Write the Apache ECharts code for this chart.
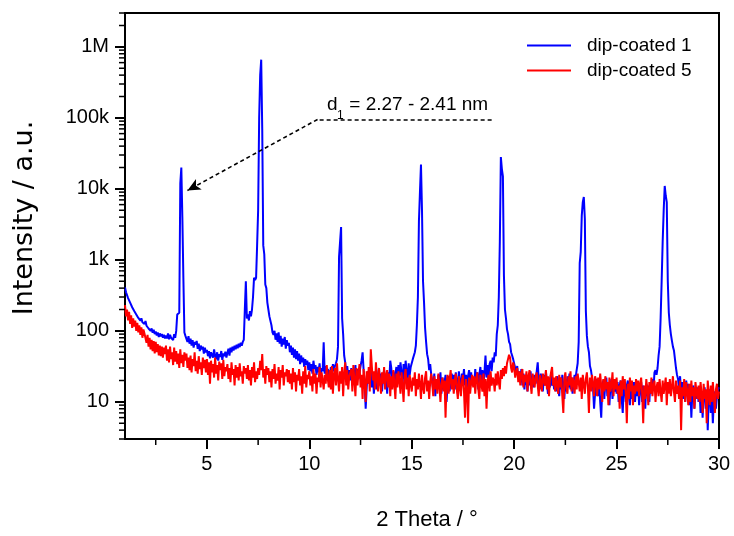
<!DOCTYPE html>
<html>
<head>
<meta charset="utf-8">
<script src="https://cdn.jsdelivr.net/npm/echarts@6/dist/echarts.min.js"></script>
<style>html,body{margin:0;padding:0;background:#fff;}#chart{width:734px;height:536px;}</style>
</head>
<body>
<div id="chart"></div>
<script>
// 2θ sampling grid
const thetaStart = 1, thetaStep = 0.05;
// Intensity, dip-coated 1 (blue), one value per 0.05° from 1° to 30°
const dip1 = [
410,350,340,290,295,250,245,215,220,190,195,170,178,152,160,140,150,132,140,125,
138,118,125,108,115,100,108,94,104,90,98,86,95,82,92,84,90,80,88,78,
86,78,92,76,88,80,84,74,90,80,100,170,175,180,12000,20000,4000,550,95,85,
80,70,84,66,78,62,74,58,70,64,72,56,66,52,62,55,60,48,58,50,
54,44,52,41,50,46,42,55,44,40,50,38,47,43,52,39,48,44,51,42,
49,56,45,58,50,60,53,62,55,64,57,66,59,68,62,70,75,200,500,150,
170,140,190,160,200,300,560,520,560,1600,5000,100000,400000,660000,70000,1600,1200,450,400,250,
200,160,150,120,95,88,100,75,92,70,95,66,85,60,78,64,82,56,74,62,
68,50,62,46,58,42,55,40,52,38,48,34,45,36,42,31,40,33,38,28,
36,27,34,25,38,29,33,24,31,26,35,23,30,27,69,25,32,22,29,26,
22,31,24,34,27,32,35,40,60,1100,1800,2900,150,90,45,36,26,32,22,28,
20,30,17,27,22,33,18,29,21,26,32,38,50,28,19,8,16,27,18,24,
28,16,26,13,22,27,15,24,30,17,25,14,23,28,16,22,13,26,19,38,
30,19,27,16,25,31,18,33,22,36,26,17,34,21,38,27,20,35,24,31,
33,40,42,50,62,120,300,3500,9000,22000,5000,500,250,110,70,47,40,28,34,24,
20,14,25,12,21,16,24,18,26,13,22,15,19,24,10,18,23,14,21,25,
18,24,15,26,20,13,27,19,16,25,21,29,17,24,15,23,28,18,26,17,
22,17,29,19,26,15,24,31,20,28,18,26,45,22,33,21,34,38,27,42,
36,50,44,90,120,300,1800,28000,19000,15000,600,200,150,105,90,70,65,50,45,40,
38,30,26,32,21,27,19,29,17,25,15,24,20,14,23,17,27,18,22,16,
24,18,27,36,20,15,25,19,14,24,17,27,18,13,22,16,25,17,21,15,
20,14,23,16,12,22,15,24,17,11,21,14,23,16,25,15,22,13,19,24,
22,28,35,70,900,1300,4200,6500,7700,3800,190,85,60,50,32,28,22,16,8,13,
17,21,12,19,10,6,16,20,11,18,22,12,19,9,17,21,11,18,14,20,
13,19,10,17,20,11,7,16,18,10,17,20,12,9,18,11,16,19,10,17,
12,18,9,16,19,10,17,13,8,18,12,17,10,19,13,21,15,26,28,24,
30,45,60,150,500,1800,5000,11000,8000,6500,500,180,120,90,73,60,53,40,30,24,
21,15,23,13,19,11,17,10,20,12,18,9,16,6,14,17,8,15,11,16,
10,15,7,14,6,13,16,8,14,4,12,15,7,13,5,11,14,8,12,15,
16
];
// Intensity, dip-coated 5 (red)
const dip5 = [
230,160,200,140,185,125,165,110,150,115,140,100,130,95,120,88,112,80,105,92,
95,68,88,60,80,55,75,52,72,48,70,50,65,45,62,44,60,42,58,47,
62,38,55,36,60,40,50,33,58,37,52,34,48,30,55,35,46,31,50,38,
48,30,42,28,45,26,40,32,50,27,38,25,44,29,36,24,42,30,39,26,
40,24,36,18,38,26,34,22,42,25,33,20,37,28,35,21,39,23,31,27,
34,21,30,19,36,24,29,17,33,22,31,20,35,23,27,18,32,25,30,21,
33,20,28,17,31,22,36,19,27,21,30,24,38,28,47,22,29,18,32,24,
30,19,27,16,29,21,34,18,25,20,31,15,28,22,33,17,26,23,29,19,
28,18,25,15,30,19,26,14,24,20,29,17,23,13,27,18,32,16,24,21,
27,17,23,14,29,18,25,13,22,19,31,16,26,20,15,24,18,33,21,16,
28,15,32,13,24,30,17,35,21,14,27,18,31,12,25,36,17,28,15,23,
22,29,14,33,20,12,30,17,26,34,16,24,11,29,19,10,27,18,31,14,
55,32,20,27,15,36,22,14,30,19,13,26,18,31,15,24,28,16,25,12,
23,15,28,18,11,25,16,27,20,13,26,17,10,23,29,15,22,12,24,18,
14,22,17,26,12,21,15,25,18,11,24,16,13,22,27,14,20,11,19,25,
18,12,23,15,21,13,25,17,10,18,22,14,20,6,19,24,13,21,28,15,
21,13,20,25,15,11,23,16,12,20,24,14,6,21,15,5,22,13,19,24,
16,23,13,21,26,15,11,24,18,14,25,12,21,8,19,24,14,27,17,22,
20,14,25,17,27,19,15,28,21,30,23,32,25,35,40,46,42,30,26,36,
31,22,26,30,19,27,17,25,29,16,24,19,27,14,23,28,18,13,25,20,
16,23,26,17,12,24,19,14,25,20,17,28,15,23,12,21,26,31,17,22,
14,23,18,13,24,16,22,12,7,21,26,16,13,23,17,27,14,22,19,13,
23,15,25,19,14,22,11,24,18,13,21,26,16,7,22,14,24,18,12,23,
20,12,22,15,25,17,10,21,14,23,15,19,9,22,14,17,26,12,21,15,
22,13,17,8,20,12,23,15,21,13,5,18,11,22,14,20,9,17,13,21,
14,20,12,18,22,13,5,17,11,21,15,9,19,13,22,12,17,20,10,16,
19,12,21,14,10,20,13,17,22,9,19,13,21,12,16,23,14,10,20,13,
17,11,20,4,16,12,21,10,19,14,9,18,10,20,12,16,8,19,14,11,
17,10,19,13,7,18,11,15,5,20,13,9,17,10,19,12,7,15,18,11,
14
];
const seriesNames = ['dip-coated 1', 'dip-coated 5'];
const yTickValues = [10, 100, 1000, 10000, 100000, 1000000];
const yTickLabels = ['10', '100', '1k', '10k', '100k', '1M'];
const xMinorTicks = [2.5, 7.5, 12.5, 17.5, 22.5, 27.5];
const yMinorMultipliers = [2, 3, 4, 5, 6, 7, 8, 9];
const yMinorDecades = [1, 10, 100, 1000, 10000, 100000, 1000000];
// annotation (data coordinates)
const annoTextStart = [18.9, 95000];
const annoBend = [10.4, 95000];
const annoArrowTip = [4.05, 9500];

const X_MIN = 1, X_MAX = 30, Y_MIN = 3, Y_MAX = 3e6;
const FONT = 'Liberation Sans, Arial, sans-serif';
const WIDE = 'DejaVu Sans, sans-serif';

const toPairs = arr => arr.map((v, i) => [+(thetaStart + i * thetaStep).toFixed(2), v]);

const yMinor = [];
yMinorDecades.forEach(d => yMinorMultipliers.forEach(m => {
  const v = d * m; if (v >= Y_MIN && v <= Y_MAX) yMinor.push(v);
}));

const chart = echarts.init(document.getElementById('chart'), null, {renderer: 'canvas'});
const option = {
  animation: false,
  backgroundColor: '#ffffff',
  grid: {left: 125, top: 13, width: 594, height: 430, show: true, borderColor: '#000', borderWidth: 2, backgroundColor: 'transparent'},
  legend: {
    data: seriesNames.map(n => ({name: n, icon: 'rect'})), orient: 'vertical', left: 522, top: 31,
    itemWidth: 44, itemHeight: 2, itemGap: 6,
    textStyle: {fontSize: 19, color: '#000', fontFamily: FONT, padding: [0, 0, 0, 11]}
  },
  xAxis: {
    type: 'value', min: X_MIN, max: X_MAX, splitNumber: 5,
    name: '2 Theta / °', nameLocation: 'middle', nameGap: 70,
    nameTextStyle: {fontSize: 22, color: '#000', fontFamily: FONT, padding: [0, 0, 0, 10]},
    axisLine: {lineStyle: {color: '#000', width: 2}},
    axisTick: {inside: false, length: 10, lineStyle: {color: '#000', width: 2}},
    axisLabel: {margin: 15, fontSize: 20, color: '#000', fontFamily: FONT, showMinLabel: false},
    splitLine: {show: false}
  },
  yAxis: {
    type: 'log', logBase: 10, min: Y_MIN, max: Y_MAX,
    name: 'Intensity / a.u.', nameLocation: 'middle', nameGap: 87, nameRotate: 90,
    nameTextStyle: {fontSize: 27, color: '#000', fontFamily: WIDE, padding: [0, 0, 0, 16]},
    axisLine: {lineStyle: {color: '#000', width: 2}},
    axisTick: {inside: false, length: 10, lineStyle: {color: '#000', width: 2}},
    axisLabel: {
      margin: 16, fontSize: 20, color: '#000', fontFamily: FONT,
      showMinLabel: false, showMaxLabel: false,
      formatter: v => {
        let best = -1;
        yTickValues.forEach((t, i) => { if (Math.abs(Math.log10(v) - Math.log10(t)) < 0.01) best = i; });
        return best >= 0 ? yTickLabels[best] : '';
      }
    },
    splitLine: {show: false}
  },
  series: [
    {
      name: seriesNames[0], type: 'line', data: toPairs(dip1), symbol: 'none',
      lineStyle: {color: '#0000ff', width: 2}, itemStyle: {color: '#0000ff'}, z: 2
    },
    {
      name: seriesNames[1], type: 'line', data: toPairs(dip5), symbol: 'none',
      lineStyle: {color: '#ff0000', width: 2}, itemStyle: {color: '#ff0000'}, z: 3
    },
    {
      name: 'annotation', type: 'line', data: [], z: 5, silent: true,
      markLine: {
        silent: true, animation: false, label: {show: false},
        lineStyle: {color: '#000', width: 1.6, type: [4, 3]},
        data: [
          [{coord: annoTextStart, symbol: 'none'}, {coord: annoBend, symbol: 'none'}],
          [{coord: annoBend, symbol: 'none'}, {coord: annoArrowTip, symbol: 'arrow', symbolSize: [9, 13]}]
        ]
      }
    },
    {
      name: 'yMinorTicks', type: 'custom', clip: false, silent: true, z: 10,
      data: yMinor.map(v => [X_MIN, v]),
      renderItem: (params, api) => {
        const p = api.coord([api.value(0), api.value(1)]);
        return {type: 'line', shape: {x1: p[0] - 6, y1: p[1], x2: p[0], y2: p[1]}, style: {stroke: '#000', lineWidth: 1.5}};
      }
    },
    {
      name: 'xMinorTicks', type: 'custom', clip: false, silent: true, z: 10,
      data: xMinorTicks.map(v => [v, Y_MIN]),
      renderItem: (params, api) => {
        const p = api.coord([api.value(0), api.value(1)]);
        return {type: 'line', shape: {x1: p[0], y1: p[1], x2: p[0], y2: p[1] + 6}, style: {stroke: '#000', lineWidth: 1.5}};
      }
    }
  ],
  graphic: [
    {type: 'text', left: 327, top: 95, style: {text: 'd', fontSize: 19, fill: '#000', fontFamily: FONT}},
    {type: 'text', left: 337, top: 110, style: {text: '1', fontSize: 12, fill: '#000', fontFamily: FONT}},
    {type: 'text', left: 344, top: 95, style: {text: ' = 2.27 - 2.41 nm', fontSize: 19, fill: '#000', fontFamily: FONT}}
  ]
};
chart.setOption(option);
</script>
</body>
</html>
